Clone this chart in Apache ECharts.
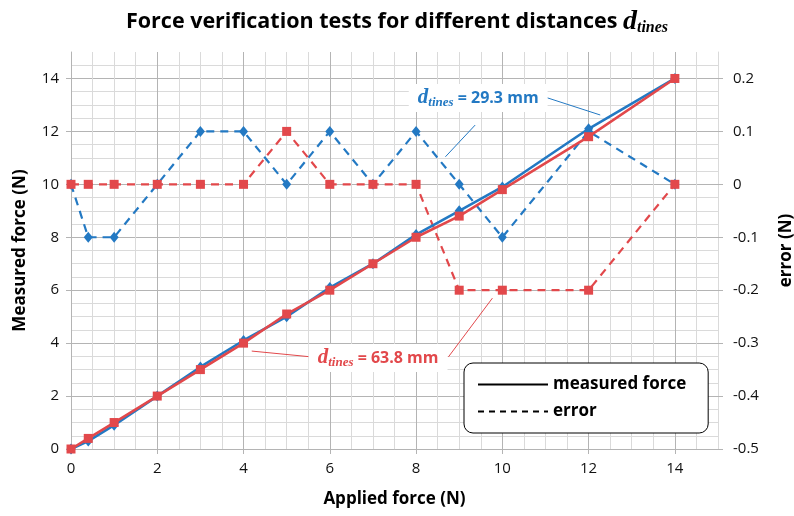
<!DOCTYPE html>
<html>
<head>
<meta charset="utf-8">
<script src="https://cdn.jsdelivr.net/npm/echarts@6/dist/echarts.min.js"></script>
<style>
html, body { margin: 0; padding: 0; background: #fff; }
#main { width: 794px; height: 516px; }
</style>
</head>
<body>
<div id="main"></div>
<script>
// data
var applied = [0, 0.4, 1, 2, 3, 4, 5, 6, 7, 8, 9, 10, 12, 14];
var measured293 = [0, 0.3, 0.9, 2, 3.1, 4.1, 5, 6.1, 7, 8.1, 9, 9.9, 12.1, 14];
var measured638 = [0, 0.4, 1, 2, 3, 4, 5.1, 6, 7, 8, 8.8, 9.8, 11.8, 14];
var error293 = [0, -0.1, -0.1, 0, 0.1, 0.1, 0, 0.1, 0, 0.1, 0, -0.1, 0.1, 0];
var error638 = [0, 0, 0, 0, 0, 0, 0.1, 0, 0, 0, -0.2, -0.2, -0.2, 0];
var xTicks = [0, 2, 4, 6, 8, 10, 12, 14];
var forceTicks = [0, 2, 4, 6, 8, 10, 12, 14];
var errorTicks = [-0.5, -0.4, -0.3, -0.2, -0.1, 0, 0.1, 0.2];

var blue = '#2379c3';
var red = '#e2484b';
var major = '#b4b4b4';
var minor = '#dadada';
var font = 'Open Sans';

function pairs(xs, ys) {
    var out = [];
    for (var i = 0; i < xs.length; i++) out.push([xs[i], ys[i]]);
    return out;
}

// callout labels and their leader lines, in data units (applied, measured)
var label293 = [9.44, 13.26];
var leaders293 = [[[11.04, 13.27], [12.27, 12.62]], [[9.37, 12.24], [8.68, 11.04]]];
var label638 = [7.12, 3.44];
var leaders638 = [[[4.19, 3.70], [5.51, 3.49]], [[8.75, 3.48], [9.77, 5.70]]];

function leaderLines(list, color) {
    return {
        silent: true,
        symbol: ['none', 'none'],
        label: { show: false },
        lineStyle: { color: color, width: 1, type: 'solid' },
        data: list.map(function (l) { return [{ coord: l[0] }, { coord: l[1] }]; })
    };
}

function callout(pos, text, color) {
    return {
        silent: true,
        data: [{
            coord: pos,
            symbol: 'rect',
            symbolSize: 0,
            label: {
                show: true,
                position: 'inside',
                backgroundColor: '#fff',
                padding: [3, 9, 3, 9],
                formatter: '{d|d}{s|tines}{t| = ' + text + '}',
                rich: {
                    d: { fontFamily: 'Liberation Serif', fontStyle: 'italic', fontWeight: 'bold', fontSize: 21, color: color },
                    s: { fontFamily: 'Liberation Serif', fontStyle: 'italic', fontWeight: 'bold', fontSize: 13, color: color, padding: [9, 0, 0, 0] },
                    t: { fontFamily: font, fontWeight: 'bold', fontSize: 16, color: color }
                }
            }
        }]
    };
}

var myChart = echarts.init(document.getElementById('main'));

var option = {
    animation: false,
    title: {
        left: 'center',
        top: 3,
        text: '{a|Force verification tests for different distances }{d|d}{s|tines}',
        textStyle: {
            rich: {
                a: { fontFamily: font, fontWeight: 'bold', fontSize: 21.5, color: '#000' },
                d: { fontFamily: 'Liberation Serif', fontStyle: 'italic', fontWeight: 'bold', fontSize: 28, color: '#000' },
                s: { fontFamily: 'Liberation Serif', fontStyle: 'italic', fontWeight: 'bold', fontSize: 16, color: '#000', padding: [12, 0, 0, 0] }
            }
        }
    },
    grid: { left: 71, right: 76, top: 52, bottom: 67, outerBoundsMode: 'none' },
    legend: {
        data: ['measured force', 'error'],
        orient: 'vertical',
        left: 464,
        top: 363,
        itemWidth: 70,
        itemHeight: 14,
        itemGap: 10,
        padding: [13, 22, 13, 13],
        backgroundColor: '#fff',
        borderColor: '#000',
        borderWidth: 1,
        borderRadius: 9,
        selectedMode: false,
        itemStyle: { color: 'rgba(0,0,0,0)', borderWidth: 0 },
        textStyle: { fontFamily: font, fontWeight: 'bold', fontSize: 17, color: '#000' }
    },
    xAxis: {
        type: 'value',
        min: 0,
        max: 15,
        interval: 2,
        name: 'Applied force (N)',
        nameLocation: 'middle',
        nameGap: 42,
        nameTextStyle: { fontFamily: font, fontWeight: 'bold', fontSize: 17, color: '#000' },
        axisLine: { show: true, onZero: false, lineStyle: { color: major } },
        axisTick: { show: true, length: 5, customValues: xTicks, lineStyle: { color: major } },
        axisLabel: { customValues: xTicks, margin: 12, fontFamily: font, fontSize: 15, color: '#111' },
        splitLine: { show: true, lineStyle: { color: major } },
        minorTick: { show: false, splitNumber: 4 },
        minorSplitLine: { show: true, lineStyle: { color: minor } }
    },
    yAxis: [{
        type: 'value',
        min: 0,
        max: 15,
        interval: 2,
        name: 'Measured force (N)',
        nameLocation: 'middle',
        nameGap: 42,
        nameTextStyle: { fontFamily: font, fontWeight: 'bold', fontSize: 17, color: '#000' },
        axisLine: { show: true, lineStyle: { color: major } },
        axisTick: { show: true, length: 5, customValues: forceTicks, lineStyle: { color: major } },
        axisLabel: { customValues: forceTicks, margin: 12, fontFamily: font, fontSize: 15, color: '#111' },
        splitLine: { show: true, lineStyle: { color: major } },
        minorTick: { show: false, splitNumber: 4 },
        minorSplitLine: { show: true, lineStyle: { color: minor } }
    }, {
        type: 'value',
        position: 'right',
        min: -0.5,
        max: 0.25,
        interval: 0.1,
        name: 'error (N)',
        nameLocation: 'middle',
        nameGap: 60,
        nameTextStyle: { fontFamily: font, fontWeight: 'bold', fontSize: 17, color: '#000' },
        axisLine: { show: true, lineStyle: { color: minor } },
        axisTick: { show: true, length: 5, customValues: errorTicks, lineStyle: { color: major } },
        axisLabel: {
            customValues: errorTicks, margin: 15, fontFamily: font, fontSize: 15, color: '#111',
            formatter: function (v) { return String(Math.round(v * 10) / 10); }
        },
        splitLine: { show: false }
    }],
    series: [
        {
            name: 'error 29.3',
            type: 'line',
            yAxisIndex: 1,
            data: pairs(applied, error293),
            symbol: 'diamond',
            symbolSize: [9, 11],
            itemStyle: { color: blue },
            lineStyle: { color: blue, width: 2.2, type: [8, 6] }
        },
        {
            name: 'error 63.8',
            type: 'line',
            yAxisIndex: 1,
            data: pairs(applied, error638),
            symbol: 'rect',
            symbolSize: 9,
            itemStyle: { color: red },
            lineStyle: { color: red, width: 2.2, type: [8, 6] }
        },
        {
            name: 'measured 29.3',
            type: 'line',
            data: pairs(applied, measured293),
            symbol: 'diamond',
            symbolSize: [9, 11],
            itemStyle: { color: blue },
            lineStyle: { color: blue, width: 2.6 },
            markLine: leaderLines(leaders293, blue),
            markPoint: callout(label293, '29.3 mm', blue)
        },
        {
            name: 'measured 63.8',
            type: 'line',
            data: pairs(applied, measured638),
            symbol: 'rect',
            symbolSize: 9,
            itemStyle: { color: red },
            lineStyle: { color: red, width: 2.6 },
            markLine: leaderLines(leaders638, red),
            markPoint: callout(label638, '63.8 mm', red)
        },
        // legend-only entries
        {
            name: 'measured force',
            type: 'line',
            data: [],
            symbol: 'none',
            itemStyle: { color: '#000' },
            lineStyle: { color: '#000', width: 2 }
        },
        {
            name: 'error',
            type: 'line',
            data: [],
            symbol: 'none',
            itemStyle: { color: '#000' },
            lineStyle: { color: '#000', width: 2, type: [6, 5] }
        }
    ]
};

myChart.setOption(option);
</script>
</body>
</html>
